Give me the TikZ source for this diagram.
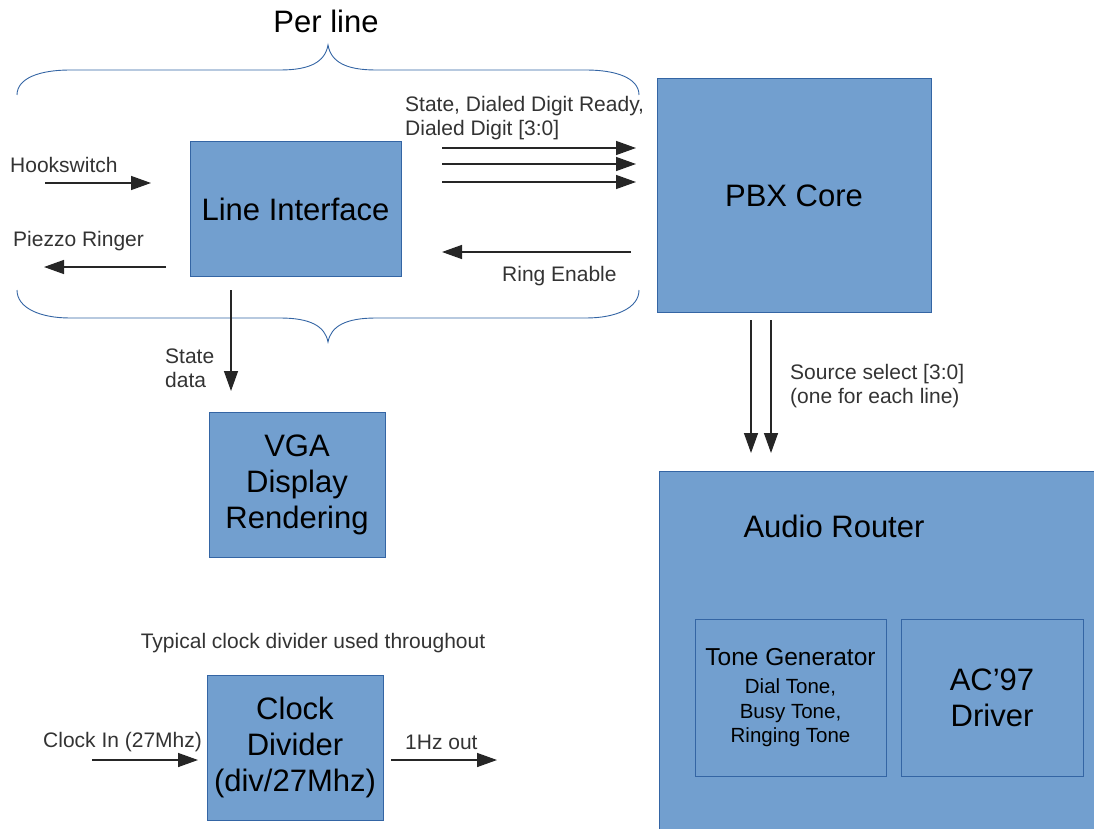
\documentclass[tikz,border=0pt]{standalone}
\usepackage{fontspec}
\setmainfont{Liberation Sans}
\usepackage{tikz}
\usetikzlibrary{arrows.meta,positioning}
\usepackage{xcolor}

\definecolor{boxfill}{HTML}{729FCF}
\definecolor{boxline}{HTML}{3465A4}
\definecolor{lblgrey}{HTML}{333333}

\newcommand{\bigfont}{\fontsize{31}{36}\selectfont}
\newcommand{\smallfont}{\fontsize{21}{24}\selectfont}

\tikzset{
  block/.style={draw=boxline, fill=boxfill, line width=1pt, inner sep=0pt,
    align=center, text=black, font=\bigfont},
  sig/.style={-{Triangle[length=20pt,width=14pt]}, line width=1.4pt, draw=black!85},
  lbl/.style={text=lblgrey, font=\smallfont, inner sep=0pt, align=left},
  brace/.style={draw=boxline, line width=0.9pt}
}

\begin{document}
\begin{tikzpicture}[x=1pt,y=-1pt]
        \useasboundingbox (0,0) rectangle (1094,829);

        % blocks
        \node[block, minimum width=441pt, minimum height=369pt] (router) at (879.5,655.5) {};
        \node[block, minimum width=211pt, minimum height=134pt] (line) at (295.5,209) {Line Interface};
        \node[block, minimum width=274pt, minimum height=233pt] (pbx) at (794,195.5) {PBX Core};
        \node[block, minimum width=176pt, minimum height=145pt] (vga) at (297,484.5) {VGA\\Display\\Rendering};
        \node[block, minimum width=176pt, minimum height=145pt] (clkdiv) at (295,747.5) {Clock\\Divider\\(div/27Mhz)};
        \node[block, minimum width=191pt, minimum height=157pt, font=\fontsize{20.5}{24.5}\selectfont]
            (tonegen) at (790.5,697.5)
            {{\fontsize{24.5}{29}\selectfont Tone Generator}\\[4pt]
             Dial Tone,\\Busy Tone,\\Ringing Tone};
        \node[block, minimum width=182pt, minimum height=157pt] (ac97) at (992,697.5) {AC’97\\Driver};
        \node[text=black, font=\bigfont, inner sep=0pt] (routertitle) at (834,526) {Audio Router};

        % per line braces
        \node[font=\bigfont, anchor=base, inner sep=0pt] (perline) at (326,33) {Per line};
        \draw[brace] (17,95) .. controls (17,78) and (40,70) .. (70,70) -- (280,70)
            .. controls (310,70) and (325,62) .. (328,45)
            .. controls (331,62) and (346,70) .. (376,70) -- (586,70)
            .. controls (616,70) and (639,78) .. (639,95);
        \draw[brace] (17,290) .. controls (17,308) and (40,318) .. (70,318) -- (280,318)
            .. controls (310,318) and (325,326) .. (328,342)
            .. controls (331,326) and (346,318) .. (376,318) -- (586,318)
            .. controls (616,318) and (639,308) .. (639,290);

        % line interface signals
        \coordinate (hookA) at (45,183);
        \coordinate (hookB) at (151,183);
        \draw[sig] (hookA) -- (hookB);
        \node[lbl, anchor=base west] (hooklbl) at (10,173) {Hookswitch};

        \coordinate (ringerA) at (166,267);
        \coordinate (ringerB) at (44,267);
        \draw[sig] (ringerA) -- (ringerB);
        \node[lbl, anchor=base west] (ringerlbl) at (13,246) {Piezzo Ringer};

        \foreach \y [count=\i] in {148,164,182} {
            \coordinate (st\i A) at (442,\y);
            \coordinate (st\i B) at (636,\y);
            \draw[sig] (st\i A) -- (st\i B);
        }
        \node[lbl, anchor=north west] (statelbl) at (405,96)
            {State, Dialed Digit Ready,\\Dialed Digit [3:0]};

        \coordinate (ringenA) at (631,252);
        \coordinate (ringenB) at (442,252);
        \draw[sig] (ringenA) -- (ringenB);
        \node[lbl, anchor=base west] (ringenlbl) at (502,281) {Ring Enable};

        % state data to vga
        \coordinate (sdA) at (231,290);
        \coordinate (sdB) at (231,391);
        \draw[sig] (sdA) -- (sdB);
        \node[lbl, anchor=north west] (sdlbl) at (165,349) {State\\data};

        % pbx to audio router
        \foreach \x [count=\i] in {751,771} {
            \coordinate (src\i A) at (\x,320);
            \coordinate (src\i B) at (\x,453);
            \draw[sig] (src\i A) -- (src\i B);
        }
        \node[lbl, anchor=north west] (srclbl) at (790,364)
            {Source select [3:0]\\(one for each line)};

        % clock divider
        \node[lbl, anchor=base] (clklbl) at (313,648) {Typical clock divider used throughout};
        \coordinate (clkinA) at (92,760);
        \coordinate (clkinB) at (198,760);
        \draw[sig] (clkinA) -- (clkinB);
        \node[lbl, anchor=base west] (clkinlbl) at (43,747) {Clock In (27Mhz)};
        \coordinate (clkoutA) at (391,760);
        \coordinate (clkoutB) at (497,760);
        \draw[sig] (clkoutA) -- (clkoutB);
        \node[lbl, anchor=base west] (clkoutlbl) at (405,749) {1Hz out};
\end{tikzpicture}
\end{document}
